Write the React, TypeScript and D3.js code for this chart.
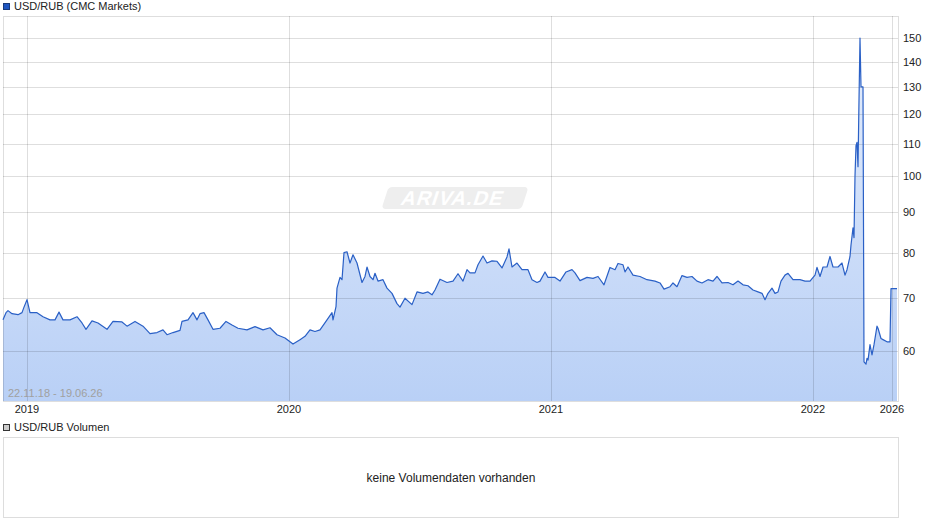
import React, { useEffect, useRef } from 'react';
import * as d3 from 'd3';

// trading session index (since 22.11.18) and USD/RUB close
const sessions = [
  0, 3, 5, 9, 15, 19, 21, 24, 27, 34, 40, 47, 52, 56, 60, 67, 74, 79, 83, 89, 95, 104, 110, 119, 124, 132,
  140, 147, 154, 160, 164, 170, 177, 179, 185, 190, 194, 197, 201, 205, 210, 217, 223, 229, 235, 244, 252,
  260, 267, 274, 282, 290, 297, 302, 307, 312, 317, 324, 329, 330, 333, 334, 337, 339, 341, 344, 347, 350,
  354, 359, 362, 364, 367, 370, 372, 375, 380, 384, 389, 394, 397, 402, 409, 414, 420, 425, 429, 432, 437,
  444, 450, 455, 460, 464, 467, 472, 475, 480, 484, 489, 494, 499, 504, 506, 509, 514, 519, 525, 529, 534,
  537, 542, 545, 552, 557, 563, 569, 572, 577, 584, 590, 595, 601, 607, 612, 615, 620, 622, 625, 630, 637,
  644, 652, 657, 661, 667, 670, 674, 679, 684, 689, 694, 699, 705, 710, 714, 719, 725, 730, 735, 740, 745,
  750, 755, 759, 762, 765, 769, 772, 775, 778, 782, 785, 790, 797, 802, 807, 812, 814, 817, 820, 824, 827,
  830, 835, 839, 842, 844, 847, 848, 850, 851, 852, 853, 854, 855, 856, 857, 858, 859, 860, 861, 863, 864,
  865, 867, 869, 871, 874, 875, 878, 880, 884, 887, 888, 894,
];
const closes = [
  65.7, 67.1, 67.5, 66.9, 66.7, 67.1, 68.2, 69.7, 67.1, 67.1, 66.3, 65.7, 65.7, 67.2, 65.7, 65.7, 66.3, 65.1,
  63.9, 65.5, 65.1, 63.9, 65.4, 65.3, 64.5, 65.4, 64.5, 63.1, 63.3, 63.8, 62.9, 63.3, 63.7, 65.4, 65.7, 67.1,
  65.7, 66.9, 67.1, 65.7, 63.9, 64.1, 65.4, 64.7, 64.1, 63.8, 64.4, 63.8, 64.2, 62.9, 62.3, 61.2, 62.0, 62.6,
  63.8, 63.5, 63.8, 65.7, 67.1, 65.7, 68.3, 72.1, 74.4, 73.9, 80.0, 80.2, 77.6, 79.5, 77.6, 73.3, 74.6, 76.7,
  74.6, 73.9, 75.3, 73.6, 73.9, 72.1, 71.0, 68.9, 68.2, 70.0, 68.7, 71.3, 71.0, 71.3, 70.7, 71.7, 74.0, 73.3,
  73.6, 75.2, 73.6, 76.1, 75.4, 75.4, 77.2, 79.2, 77.6, 78.1, 78.0, 76.5, 79.0, 80.9, 76.7, 77.6, 76.1, 76.1,
  73.9, 73.3, 73.6, 75.6, 74.4, 74.4, 73.6, 75.6, 76.1, 75.4, 73.7, 74.4, 74.2, 74.6, 72.8, 76.6, 76.1, 77.5,
  77.2, 75.6, 76.7, 74.9, 74.6, 73.9, 73.6, 73.2, 71.9, 72.4, 73.2, 72.4, 74.8, 74.4, 74.6, 73.6, 73.2, 73.9,
  73.6, 74.6, 73.2, 73.3, 72.8, 73.6, 72.8, 72.6, 71.7, 71.3, 71.0, 69.7, 71.0, 72.1, 71.0, 71.3, 73.6, 74.9,
  75.3, 73.9, 73.9, 73.6, 73.6, 74.9, 76.6, 74.6, 76.7, 76.7, 79.1, 76.7, 76.7, 77.6, 74.9, 76.1, 79.1, 81.8,
  86.0, 83.6, 100.1, 109.4, 110.5, 102.9, 125.0, 150.0, 130.0, 130.0, 130.0, 58.1, 57.7, 58.7, 58.4, 61.1,
  59.3, 61.1, 64.5, 64.1, 62.2, 62.0, 61.6, 61.6, 72.0, 72.0,
];

const yearTicks = [24, 286, 548, 810, 889];
const yearLabels = ['2019', '2020', '2021', '2022', '2026'];
const priceTicks = [60, 70, 80, 90, 100, 110, 120, 130, 140, 150];

const W = 940;
const H = 526;
const FONT = '"Liberation Sans", Arial, sans-serif';

export default function App() {
  const svgRef = useRef<SVGSVGElement>(null);

  useEffect(() => {
    if (!svgRef.current) return;
    const svg = d3.select(svgRef.current);
    svg.selectAll('*').remove();

    const plot = { left: 3, right: 898, top: 16, bottom: 401 };
    const data = sessions.map((s, i) => ({ s, v: closes[i] }));

    const x = d3.scaleLinear().domain([0, 895]).range([plot.left, plot.right]);
    const y = d3.scaleLog().domain([51.8, 160]).range([plot.bottom, plot.top]);

    const defs = svg.append('defs');
    const grad = defs.append('linearGradient')
      .attr('id', 'fillGrad')
      .attr('x1', 0).attr('y1', 0).attr('x2', 0).attr('y2', 1)
      .attr('gradientUnits', 'userSpaceOnUse')
      .attr('y1', plot.top).attr('y2', plot.bottom);
    grad.append('stop').attr('offset', '0%').attr('stop-color', '#e6eefc');
    grad.append('stop').attr('offset', '100%').attr('stop-color', '#b9d0f6');

    // Legend top
    svg.append('rect')
      .attr('x', 3.5).attr('y', 3.5).attr('width', 6).attr('height', 6)
      .attr('fill', '#1f56c1').attr('stroke', '#1a3a7a');
    svg.append('text')
      .attr('x', 14).attr('y', 10)
      .attr('font-family', FONT).attr('font-size', 11).attr('fill', '#222')
      .text('USD/RUB (CMC Markets)');

    // Watermark
    const wm = svg.append('g').attr('transform', 'translate(453,198) skewX(-18)');
    wm.append('rect')
      .attr('x', -68).attr('y', -11).attr('width', 140).attr('height', 22)
      .attr('rx', 4).attr('fill', '#eeeeee');
    wm.append('text')
      .attr('x', 0).attr('y', 7)
      .attr('text-anchor', 'middle')
      .attr('font-family', FONT).attr('font-size', 20).attr('font-weight', 'bold')
      .attr('letter-spacing', 1)
      .attr('fill', '#ffffff')
      .text('ARIVA.DE');

    // Area + line
    const area = d3.area<{ s: number; v: number }>()
      .x(d => x(d.s))
      .y0(plot.bottom)
      .y1(d => y(d.v));
    const line = d3.line<{ s: number; v: number }>()
      .x(d => x(d.s))
      .y(d => y(d.v));

    svg.append('path')
      .datum(data)
      .attr('d', area)
      .attr('fill', 'url(#fillGrad)');

    // Grid
    const grid = svg.append('g').attr('stroke', '#000').attr('stroke-opacity', 0.13).attr('shape-rendering', 'crispEdges');
    grid.selectAll('.hg')
      .data(priceTicks)
      .enter()
      .append('line')
      .attr('x1', plot.left).attr('x2', plot.right)
      .attr('y1', d => Math.round(y(d)) + 0.5)
      .attr('y2', d => Math.round(y(d)) + 0.5);
    grid.selectAll('.vg')
      .data(yearTicks)
      .enter()
      .append('line')
      .attr('y1', plot.top).attr('y2', plot.bottom)
      .attr('x1', d => Math.round(x(d)) + 0.5)
      .attr('x2', d => Math.round(x(d)) + 0.5);
    grid.append('rect')
      .attr('x', plot.left + 0.5).attr('y', plot.top + 0.5)
      .attr('width', plot.right - plot.left).attr('height', plot.bottom - plot.top)
      .attr('fill', 'none');

    svg.append('path')
      .datum(data)
      .attr('d', line)
      .attr('fill', 'none')
      .attr('stroke', '#2a60c6')
      .attr('stroke-width', 1.2)
      .attr('stroke-linejoin', 'round');

    // Y labels (right)
    svg.selectAll('.ylab')
      .data(priceTicks)
      .enter()
      .append('text')
      .attr('x', 903)
      .attr('y', d => y(d) + 4)
      .attr('font-family', FONT).attr('font-size', 11).attr('fill', '#222')
      .text(d => String(d));

    // X labels
    svg.selectAll('.xlab')
      .data(yearTicks)
      .enter()
      .append('text')
      .attr('x', d => x(d))
      .attr('y', 413)
      .attr('text-anchor', 'middle')
      .attr('font-family', FONT).attr('font-size', 11).attr('fill', '#222')
      .text((d, i) => yearLabels[i]);

    // Date range
    svg.append('text')
      .attr('x', 8).attr('y', 397)
      .attr('font-family', FONT).attr('font-size', 11).attr('fill', '#a0a0a0')
      .text('22.11.18 - 19.06.26');

    // Volume panel
    svg.append('rect')
      .attr('x', 3.5).attr('y', 424.5).attr('width', 6).attr('height', 6)
      .attr('fill', '#cccccc').attr('stroke', '#333');
    svg.append('text')
      .attr('x', 14).attr('y', 431)
      .attr('font-family', FONT).attr('font-size', 11).attr('fill', '#222')
      .text('USD/RUB Volumen');
    svg.append('rect')
      .attr('x', 3.5).attr('y', 437.5).attr('width', 895).attr('height', 80)
      .attr('fill', 'none').attr('stroke', '#dddddd');
    svg.append('text')
      .attr('x', 451).attr('y', 482)
      .attr('text-anchor', 'middle')
      .attr('font-family', FONT).attr('font-size', 12).attr('fill', '#222')
      .text('keine Volumendaten vorhanden');
  }, []);

  return (
    <div style={{ position: 'absolute', left: 0, top: 0 }}>
      <svg ref={svgRef} width={W} height={H} style={{ display: 'block', background: '#fff' }} />
    </div>
  );
}
